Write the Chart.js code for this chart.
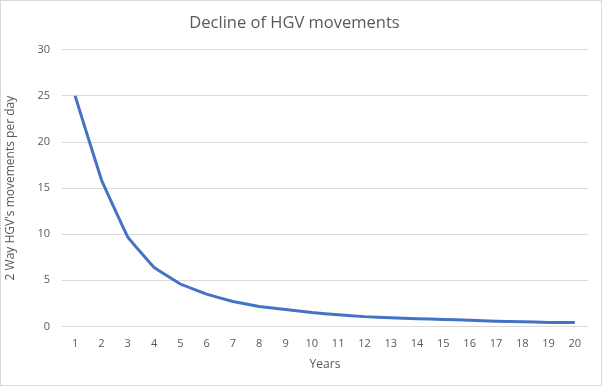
<!DOCTYPE html>
<html lang="en">
<head>
  <meta charset="UTF-8" />
  <title>Decline of HGV movements</title>
  <script src="https://cdn.jsdelivr.net/npm/chart.js"></script>
  <style>
    body {
      margin: 0;
      background: #fff;
    }
    #wrap {
      width: 600px;
      height: 384px;
      border: 1px solid #d9d9d9;
    }
  </style>
</head>
<body>
  <div id="wrap">
    <canvas id="chart" width="600" height="384"></canvas>
  </div>

  <script>
    const years = ['1','2','3','4','5','6','7','8','9','10','11','12','13','14','15','16','17','18','19','20'];
    const movements = [25, 15.9, 9.7, 6.4, 4.6, 3.5, 2.7, 2.15, 1.84, 1.5, 1.27, 1.06, 0.94, 0.84, 0.76, 0.66, 0.55, 0.5, 0.43, 0.43];
    const yTicks = [0, 5, 10, 15, 20, 25, 30];

    const textGrey = '#595959';

    new Chart(document.getElementById('chart'), {
      type: 'line',
      data: {
        labels: years,
        datasets: [{
          label: 'Movements',
          data: movements,
          borderColor: '#4472C4',
          borderWidth: 3,
          pointRadius: 0,
          tension: 0.05,
          fill: false
        }]
      },
      options: {
        responsive: false,
        animation: false,
        layout: { padding: { left: 0, right: 13, top: 8, bottom: 9 } },
        plugins: {
          legend: { display: false },
          tooltip: { enabled: false },
          title: {
            display: true,
            text: 'Decline of HGV movements',
            color: textGrey,
            font: { family: 'Open Sans', size: 16.5, weight: 'normal' },
            padding: { top: 4, bottom: 17 }
          }
        },
        scales: {
          x: {
            offset: true,
            grid: { display: false },
            border: { display: false },
            ticks: { color: textGrey, font: { family: 'Open Sans', size: 11 }, maxRotation: 0, autoSkip: false },
            title: {
              display: true,
              text: 'Years',
              color: textGrey,
              font: { family: 'Open Sans', size: 12 },
              padding: { top: 4 }
            }
          },
          y: {
            min: 0,
            max: 30,
            afterBuildTicks: axis => { axis.ticks = yTicks.map(v => ({ value: v })); },
            grid: { color: '#d9d9d9', drawTicks: false },
            border: { display: false },
            ticks: { color: textGrey, font: { family: 'Open Sans', size: 11 }, padding: 12 },
            title: {
              display: true,
              text: "2 Way HGV's movements per day",
              color: textGrey,
              font: { family: 'Open Sans', size: 12 },
              padding: { top: 2, bottom: 8 }
            }
          }
        }
      }
    });
  </script>
</body>
</html>
